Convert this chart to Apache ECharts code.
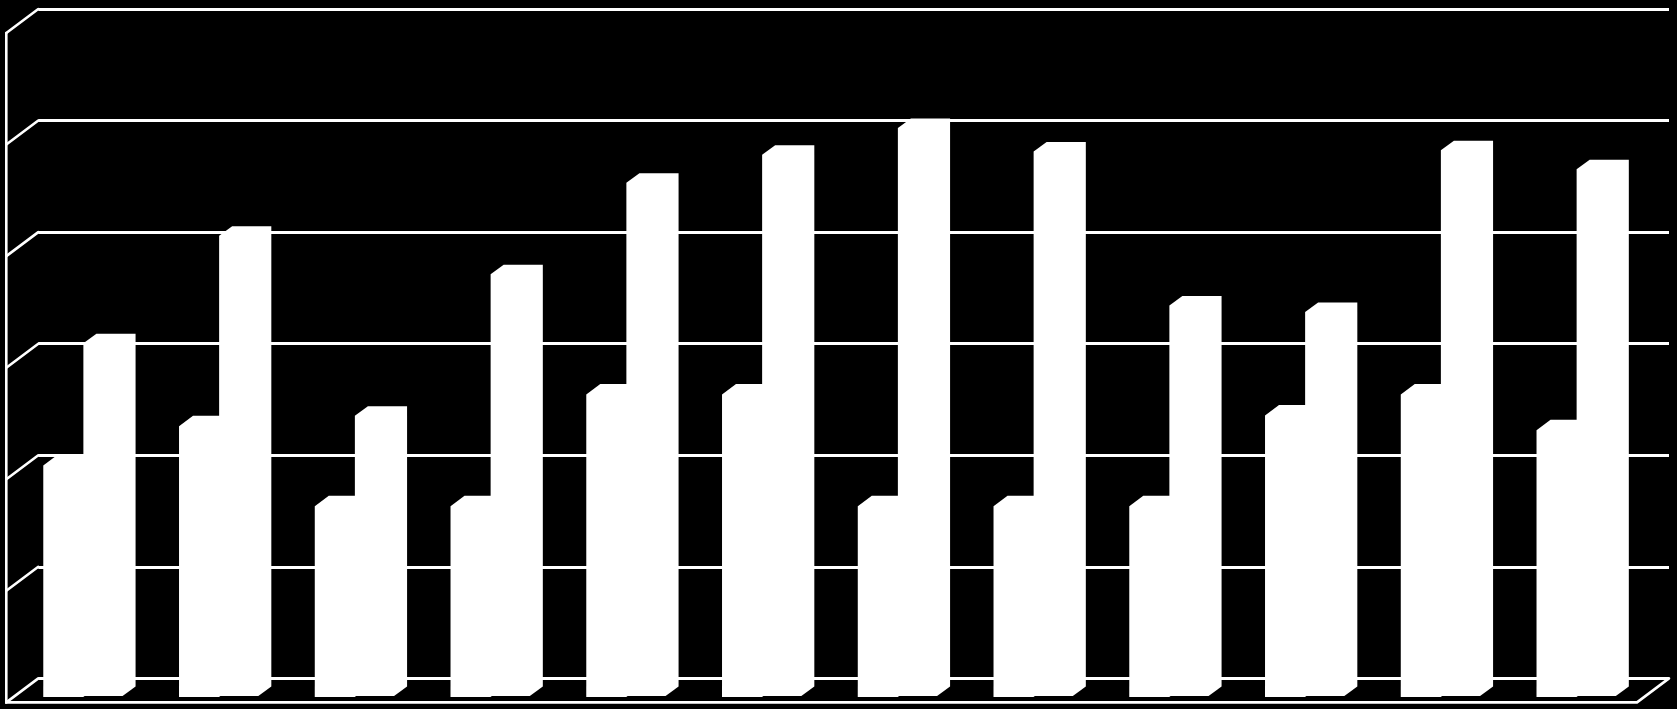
<!DOCTYPE html>
<html>
<head>
<meta charset="utf-8">
<style>html,body{margin:0;padding:0;background:#000;}#c{width:1677px;height:709px;}</style>
<script src="https://cdn.jsdelivr.net/npm/echarts@6/dist/echarts.min.js"></script>
</head>
<body>
<div id="c"></div>
<script>
const categories = ["1","2","3","4","5","6","7","8","9","10","11","12"];
const seriesA = [20.76, 24.28, 17.11, 17.11, 27.12, 27.12, 17.11, 17.11, 17.11, 25.24, 27.12, 23.92];
const seriesB = [31.6, 41.25, 25.1, 37.8, 46.0, 48.5, 50.9, 48.8, 35.0, 34.4, 48.9, 47.2];
const axisTicks = [0, 10, 20, 30, 40, 50, 60];

const WALL_DX = -32, WALL_DY = 24;
const LINE = {stroke: '#fff', lineWidth: 2.6, lineCap: 'round', lineJoin: 'miter'};

function wallItem(params, api) {
  const cs = params.coordSys;
  const p = api.coord([0, api.value(0)]);
  const y = p[1];
  const children = [{type: 'line', shape: {x1: cs.x, y1: y, x2: cs.x + WALL_DX, y2: y + WALL_DY}, style: LINE}];
  if (params.dataIndex === 0) {
    const fx = cs.x + WALL_DX, fy = y + WALL_DY, topY = api.coord([0, axisTicks[axisTicks.length - 1]])[1] + WALL_DY;
    children.push({type: 'polyline', shape: {points: [
      [fx, topY], [fx, fy], [cs.x + cs.width + WALL_DX, fy], [cs.x + cs.width, y]
    ]}, style: Object.assign({fill: 'none'}, LINE)});
  }
  return {type: 'group', children};
}

function boxItem(opt) {
  return function (params, api) {
    const p = api.coord([api.value(0), api.value(1)]);
    const z = api.coord([api.value(0), 0]);
    const x0 = p[0] + opt.left, x1 = x0 + opt.width;
    const top = p[1] + opt.back + opt.dy, base = z[1] + opt.back + opt.dy;
    return {type: 'polygon', shape: {points: [
      [x0, base], [x0, top], [x0 + opt.dx, top - opt.dy], [x1 + opt.dx, top - opt.dy],
      [x1 + opt.dx, base - opt.dy], [x1, base]
    ]}, style: {fill: '#fff'}};
  };
}

const chart = echarts.init(document.getElementById('c'), null, {renderer: 'canvas'});
chart.setOption({
  backgroundColor: '#000',
  animation: false,
  grid: [
    {left: 38.3, top: 9, width: 1630.7, height: 669.4},
    {left: 6, top: 9, width: 1629, height: 669.4}
  ],
  xAxis: [
    {type: 'category', data: categories, gridIndex: 0, show: false},
    {type: 'category', data: categories, gridIndex: 1, show: false}
  ],
  yAxis: [
    {type: 'value', gridIndex: 0, min: 0, max: 60, interval: 10,
     axisLine: {show: false}, axisTick: {show: false}, axisLabel: {show: false},
     splitLine: {show: true, lineStyle: {color: '#fff', width: 3}}},
    {type: 'value', gridIndex: 1, min: 0, max: 60, interval: 10, show: false, splitLine: {show: false}}
  ],
  series: [
    {type: 'custom', xAxisIndex: 0, yAxisIndex: 0, z: 1, silent: true,
     data: axisTicks.map(v => [v]), encode: {y: 0}, renderItem: wallItem},
    {type: 'custom', name: 'A', xAxisIndex: 1, yAxisIndex: 1, z: 2, silent: true,
     data: seriesA.map((v, i) => [i, v]), encode: {x: 0, y: 1},
     renderItem: boxItem({left: -30.6, width: 40, dx: 14, dy: 10.5, back: 8.2})},
    {type: 'custom', name: 'B', xAxisIndex: 1, yAxisIndex: 1, z: 3, silent: true,
     data: seriesB.map((v, i) => [i, v]), encode: {x: 0, y: 1},
     renderItem: boxItem({left: 9.5, width: 39.2, dx: 13, dy: 9.5, back: 8})}
  ]
});
</script>
</body>
</html>
